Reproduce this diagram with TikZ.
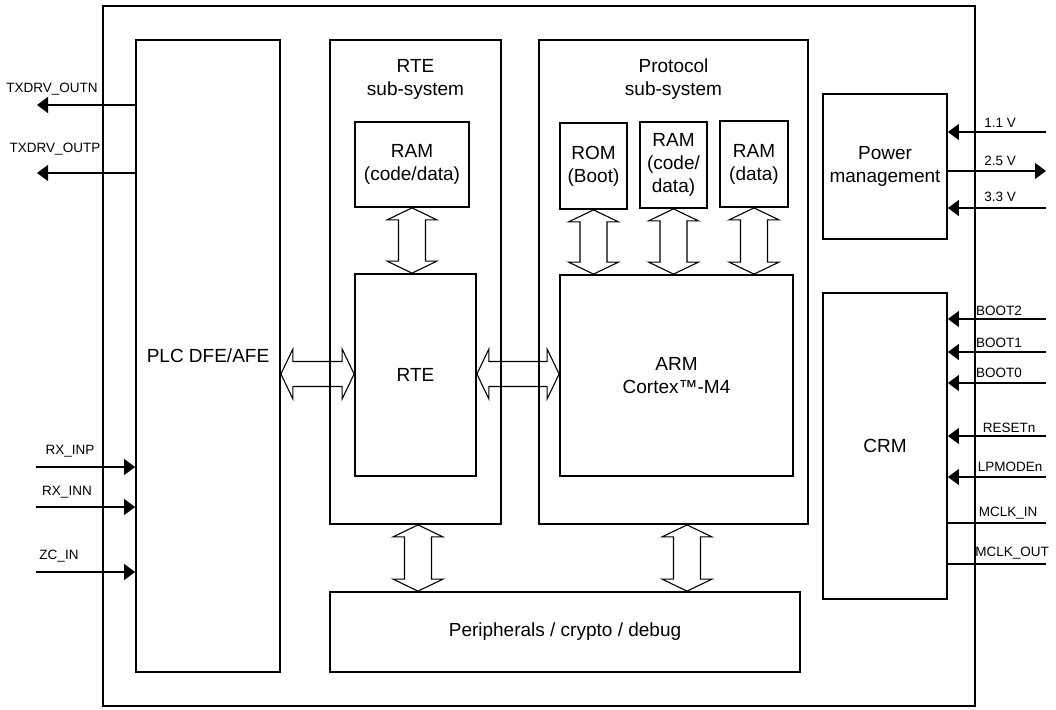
\documentclass[tikz,border=0pt]{standalone}
\usepackage{fontspec}
\setmainfont{Liberation Sans}
\usetikzlibrary{calc,arrows.meta}
\tikzset{
  box/.style={draw, line width=1.8pt, inner sep=0pt, align=center, font=\fontsize{19}{23}\selectfont},
  outerbox/.style={draw, line width=1.4pt, inner sep=0pt},
  big/.style={align=center, inner sep=0pt, font=\fontsize{19}{23}\selectfont},
  lbl/.style={inner sep=0pt, font=\fontsize{13.5}{15}\selectfont},
  sig/.style={line width=1.2pt},
  tri/.style={-{Triangle[length=11pt,width=16pt]}},
  darr/.style={line width=1.1pt, line join=miter}
}
\newcommand\vdarr[2]{\draw[darr] let \p1=(#1), \p2=(#2) in
  (\x1,\y1) -- (\x1+25pt,\y1-12pt) -- (\x1+13.5pt,\y1-12pt) -- (\x1+13.5pt,\y2+12pt) -- (\x1+25pt,\y2+12pt) -- (\x1,\y2)
  -- (\x1-25pt,\y2+12pt) -- (\x1-13.5pt,\y2+12pt) -- (\x1-13.5pt,\y1-12pt) -- (\x1-25pt,\y1-12pt) -- cycle;}
\newcommand\hdarr[2]{\draw[darr] let \p1=(#1), \p2=(#2) in
  (\x1,\y1) -- (\x1+12pt,\y1+25pt) -- (\x1+12pt,\y1+12.5pt) -- (\x2-12pt,\y1+12.5pt) -- (\x2-12pt,\y1+25pt) -- (\x2,\y1)
  -- (\x2-12pt,\y1-25pt) -- (\x2-12pt,\y1-12.5pt) -- (\x1+12pt,\y1-12.5pt) -- (\x1+12pt,\y1-25pt) -- cycle;}
\begin{document}
\begin{tikzpicture}[x=1pt,y=-1pt]
\useasboundingbox (0,0) rectangle (1056,709);
% boxes
\node[outerbox, minimum width=872pt, minimum height=700pt] (outer) at (539,356) {};
\node[box, minimum width=144pt, minimum height=632pt] (plc) at (208,356) {PLC DFE/AFE};
\node[box, minimum width=171pt, minimum height=484pt] (rtess) at (415.5,282) {};
\node[big] (rtetitle) at (415.5,79.5) {RTE\\sub-system};
\node[box, minimum width=269pt, minimum height=484pt] (protss) at (673.5,282) {};
\node[big] (prottitle) at (673.5,79.5) {Protocol\\sub-system};
\node[box, minimum width=114pt, minimum height=85pt] (rteram) at (412,164.5) {RAM\\(code/data)};
\node[box, minimum width=121pt, minimum height=202pt] (rte) at (415.5,375) {RTE};
\node[box, minimum width=67pt, minimum height=86pt] (rom) at (593.5,166) {ROM\\(Boot)};
\node[box, minimum width=67pt, minimum height=86pt] (ram2) at (673.5,165) {RAM\\(code/\\data)};
\node[box, minimum width=68pt, minimum height=86pt] (ram3) at (754,164) {RAM\\(data)};
\node[box, minimum width=233pt, minimum height=201pt] (arm) at (676.5,375.5) {ARM\\Cortex™-M4};
\node[box, minimum width=470pt, minimum height=80pt] (periph) at (565,632) {Peripherals / crypto / debug};
\node[box, minimum width=124pt, minimum height=145pt] (power) at (885,166.5) {Power\\management};
\node[box, minimum width=124pt, minimum height=306pt] (crm) at (885,446) {CRM};
% hollow double arrows
\hdarr{plc.east |- 0,374}{rte.west |- 0,374}
\hdarr{rte.east |- 0,374}{arm.west |- 0,374}
\vdarr{rteram.south}{rte.north}
\vdarr{rom.south}{arm.north}
\vdarr{ram2.south}{arm.north}
\vdarr{ram3.south}{arm.north}
\vdarr{rtess.south -| 418,0}{periph.north}
\vdarr{protss.south -| 687,0}{periph.north}
% left signals
\coordinate (txn) at (37,105);
\coordinate (txp) at (37,173);
\coordinate (rxp) at (36,467);
\coordinate (rxn) at (36,507);
\coordinate (zc) at (36,572);
\draw[sig,tri] (plc.west |- txn) -- (txn);
\draw[sig,tri] (plc.west |- txp) -- (txp);
\draw[sig,tri] (rxp) -- (plc.west |- rxp);
\draw[sig,tri] (rxn) -- (plc.west |- rxn);
\draw[sig,tri] (zc) -- (plc.west |- zc);
\node[lbl] (ltxn) at (52,89) {TXDRV\_OUTN};
\node[lbl] (ltxp) at (55,149) {TXDRV\_OUTP};
\node[lbl] (lrxp) at (70,451) {RX\_INP};
\node[lbl] (lrxn) at (67,492) {RX\_INN};
\node[lbl] (lzc) at (59,556) {ZC\_IN};
% right signals
\coordinate (v11) at (1046,132);
\coordinate (v25) at (1046,171);
\coordinate (v33) at (1046,208);
\coordinate (b2) at (1046,319);
\coordinate (b1) at (1046,352);
\coordinate (b0) at (1046,383);
\coordinate (rst) at (1046,436);
\coordinate (lpm) at (1046,477);
\coordinate (mci) at (1046,523);
\coordinate (mco) at (1046,564);
\draw[sig,tri] (v11) -- (power.east |- v11);
\draw[sig,tri] (power.east |- v25) -- (v25);
\draw[sig,tri] (v33) -- (power.east |- v33);
\draw[sig,tri] (b2) -- (crm.east |- b2);
\draw[sig,tri] (b1) -- (crm.east |- b1);
\draw[sig,tri] (b0) -- (crm.east |- b0);
\draw[sig,tri] (rst) -- (crm.east |- rst);
\draw[sig,tri] (lpm) -- (crm.east |- lpm);
\draw[sig] (crm.east |- mci) -- (mci);
\draw[sig] (crm.east |- mco) -- (mco);
\node[lbl] (l11) at (1000,123) {1.1 V};
\node[lbl] (l25) at (1000,161) {2.5 V};
\node[lbl] (l33) at (1000,197) {3.3 V};
\node[lbl] (lb2) at (999,311) {BOOT2};
\node[lbl] (lb1) at (999,343) {BOOT1};
\node[lbl] (lb0) at (999,373) {BOOT0};
\node[lbl] (lrst) at (1009,428) {RESETn};
\node[lbl] (llpm) at (1010,467) {LPMODEn};
\node[lbl] (lmci) at (1008,513) {MCLK\_IN};
\node[lbl] (lmco) at (1012,553) {MCLK\_OUT};
\end{tikzpicture}
\end{document}
